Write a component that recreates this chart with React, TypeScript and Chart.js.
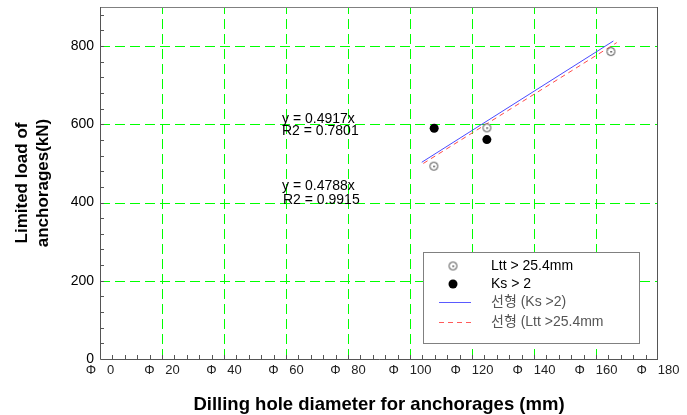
import React, { useEffect, useRef } from 'react';
import { Chart, registerables } from 'chart.js';
Chart.register(...registerables);

// ---- data ----
const xTickValues = [0, 20, 40, 60, 80, 100, 120, 140, 160, 180];
const yTickValues = [0, 200, 400, 600, 800];
const lttX = [107.7, 124.8, 164.8];
const lttY = [493, 591, 786];
const ksX = [107.8, 124.8];
const ksY = [590, 561];
const fitKsX = [103.8, 165.6];
const fitKsY = [503, 813];
const fitLttX = [104.3, 166.7];
const fitLttY = [500, 809];
const eqLines1 = ['y = 0.4917x', 'R2 = 0.7801'];
const eqLines2 = ['y = 0.4788x', 'R2 = 0.9915'];
const legendLabels = ['Ltt > 25.4mm', 'Ks > 2', '선형 (Ks >2)', '선형 (Ltt >25.4mm'];
const xTitle = 'Dilling hole diameter for anchorages (mm)';
const yTitle = ['Limited load of', 'anchorages(kN)'];

const FONT = '"Liberation Sans", Arial, "Noto Sans CJK KR", sans-serif';

function makeOpenDot(): HTMLCanvasElement {
  const c = document.createElement('canvas');
  c.width = 11; c.height = 11;
  const g = c.getContext('2d')!;
  g.fillStyle = '#fff';
  g.strokeStyle = '#444';
  g.lineWidth = 1;
  g.beginPath(); g.arc(5.5, 5.5, 4, 0, Math.PI * 2); g.fill(); g.stroke();
  g.fillStyle = '#111';
  g.fillRect(5, 5, 1.4, 1.4);
  return c;
}

let openDot: HTMLCanvasElement;

const overlayPlugin = {
  id: 'overlay',
  beforeDatasetsDraw(chart: any) {
    const { ctx, chartArea: a, scales } = chart;
    const xs = scales.x, ys = scales.y;
    ctx.save();
    // dashed green grid
    ctx.strokeStyle = '#00ff00';
    ctx.lineWidth = 1;
    ctx.setLineDash([10, 5]);
    for (const v of xTickValues) {
      if (v === 0 || v === 180) continue;
      const px = Math.round(xs.getPixelForValue(v)) + 0.5;
      ctx.beginPath();
      ctx.moveTo(px, a.bottom); ctx.lineTo(px, a.top);
      ctx.stroke();
    }
    for (const v of yTickValues) {
      if (v === 0) continue;
      const py = Math.round(ys.getPixelForValue(v)) + 0.5;
      ctx.beginPath();
      ctx.moveTo(a.left, py); ctx.lineTo(a.right, py);
      ctx.stroke();
    }
    ctx.setLineDash([]);
    // minor ticks
    ctx.strokeStyle = '#555';
    ctx.beginPath();
    for (let v = 4; v < 180; v += 4) {
      const px = Math.round(xs.getPixelForValue(v)) + 0.5;
      ctx.moveTo(px, a.bottom); ctx.lineTo(px, a.bottom - 4);
    }
    for (let v = 40; v < 900; v += 40) {
      const py = Math.round(ys.getPixelForValue(v)) + 0.5;
      ctx.moveTo(a.left, py); ctx.lineTo(a.left + 4, py);
    }
    ctx.stroke();
    // box
    ctx.strokeStyle = '#808080';
    ctx.beginPath();
    ctx.moveTo(a.left, a.top + 0.5); ctx.lineTo(a.right, a.top + 0.5);
    ctx.stroke();
    ctx.strokeStyle = '#555';
    ctx.beginPath();
    ctx.moveTo(a.left + 0.5, a.top); ctx.lineTo(a.left + 0.5, a.bottom + 0.5);
    ctx.lineTo(a.right, a.bottom + 0.5);
    ctx.moveTo(a.right - 0.5, a.top); ctx.lineTo(a.right - 0.5, a.bottom);
    ctx.stroke();
    ctx.restore();
  },
  afterDatasetsDraw(chart: any) {
    const { ctx, chartArea: a, height } = chart;
    ctx.save();
    // equation labels
    ctx.fillStyle = '#000';
    ctx.font = `14px ${FONT}`;
    ctx.textAlign = 'left';
    ctx.textBaseline = 'alphabetic';
    const ex = a.left + 182;
    ctx.fillText(eqLines1[0], ex, a.top + 116);
    ctx.fillText(eqLines1[1], ex, a.top + 128);
    ctx.fillText(eqLines2[0], ex, a.top + 183);
    ctx.fillText(eqLines2[1], ex + 1, a.top + 197);

    // legend
    const lx = a.left + 323, ly = a.top + 245, lw = 216, lh = 91;
    ctx.fillStyle = '#fff';
    ctx.fillRect(lx, ly, lw, lh);
    ctx.strokeStyle = '#808080';
    ctx.lineWidth = 1;
    ctx.strokeRect(lx + 0.5, ly + 0.5, lw, lh);
    const symX = lx + 30, textX = lx + 68;
    const rows = [ly + 14, ly + 32, ly + 50, ly + 70];
    ctx.font = `14px ${FONT}`;
    ctx.textBaseline = 'middle';
    ctx.drawImage(openDot, symX - 5.5, rows[0] - 5.5);
    ctx.fillStyle = '#000';
    ctx.beginPath(); ctx.arc(symX, rows[1], 4.5, 0, Math.PI * 2); ctx.fill();
    ctx.strokeStyle = '#5a5aff';
    ctx.beginPath(); ctx.moveTo(symX - 14, rows[2] + 0.5); ctx.lineTo(symX + 18, rows[2] + 0.5); ctx.stroke();
    ctx.strokeStyle = '#ff5a5a';
    ctx.setLineDash([5, 4]);
    ctx.beginPath(); ctx.moveTo(symX - 14, rows[3] + 0.5); ctx.lineTo(symX + 18, rows[3] + 0.5); ctx.stroke();
    ctx.setLineDash([]);
    ctx.fillStyle = '#000';
    ctx.fillText(legendLabels[0], textX, rows[0]);
    ctx.fillText(legendLabels[1], textX, rows[1]);
    ctx.fillStyle = '#555';
    ctx.fillText(legendLabels[2], textX, rows[2]);
    ctx.fillText(legendLabels[3], textX, rows[3]);

    // axis titles
    ctx.fillStyle = '#000';
    ctx.font = `bold 18.5px ${FONT}`;
    ctx.textAlign = 'center';
    ctx.textBaseline = 'alphabetic';
    ctx.fillText(xTitle, (a.left + a.right) / 2, height - 5);
    ctx.save();
    ctx.translate(22, (a.top + a.bottom) / 2);
    ctx.rotate(-Math.PI / 2);
    ctx.font = `bold 17px ${FONT}`;
    ctx.textBaseline = 'middle';
    ctx.fillText(yTitle[0], 0, 0);
    ctx.fillText(yTitle[1], 0, 21);
    ctx.restore();
    ctx.restore();
  },
};

export default function App() {
  const ref = useRef<HTMLCanvasElement>(null);
  useEffect(() => {
    openDot = makeOpenDot();
    const chart = new Chart(ref.current!, {
      type: 'scatter',
      data: {
        datasets: [
          {
            label: legendLabels[2],
            data: fitKsX.map((x, i) => ({ x, y: fitKsY[i] })),
            showLine: true,
            borderColor: '#4a4aff',
            borderWidth: 1,
            pointRadius: 0,
            order: 2,
          } as any,
          {
            label: legendLabels[3],
            data: fitLttX.map((x, i) => ({ x, y: fitLttY[i] })),
            showLine: true,
            borderColor: '#ff4a4a',
            borderWidth: 1,
            borderDash: [5, 4],
            pointRadius: 0,
            order: 1,
          } as any,
          {
            label: legendLabels[0],
            data: lttX.map((x, i) => ({ x, y: lttY[i] })),
            pointStyle: openDot,
            pointRadius: 5,
            order: 0,
          } as any,
          {
            label: legendLabels[1],
            data: ksX.map((x, i) => ({ x, y: ksY[i] })),
            pointStyle: 'circle',
            pointRadius: 4.5,
            backgroundColor: '#000',
            borderColor: '#000',
            borderWidth: 0,
            order: 0,
          } as any,
        ],
      },
      options: {
        animation: false,
        responsive: false,
        layout: { padding: { left: 0, right: 29, top: 7, bottom: 0 } },
        plugins: { legend: { display: false }, tooltip: { enabled: false } },
        scales: {
          x: {
            type: 'linear',
            min: 0,
            max: 180,
            afterBuildTicks: (s: any) => { s.ticks = xTickValues.map((v) => ({ value: v })); },
            afterFit: (s: any) => { s.height = 56; s.paddingLeft = 0; s.paddingRight = 0; },
            grid: { display: false, drawTicks: false },
            border: { display: false },
            ticks: {
              padding: 4,
              color: '#222',
              font: { family: FONT, size: 13 },
              callback: (v: any) => `Φ   ${v}`,
              maxRotation: 0,
            },
          },
          y: {
            type: 'linear',
            min: 0,
            max: 900,
            afterBuildTicks: (s: any) => { s.ticks = yTickValues.map((v) => ({ value: v })); },
            afterFit: (s: any) => { s.width = 100; s.paddingTop = 0; s.paddingBottom = 0; },
            grid: { display: false, drawTicks: false },
            border: { display: false },
            ticks: {
              padding: 6,
              color: '#000',
              font: { family: FONT, size: 14 },
            },
          },
        },
      },
      plugins: [overlayPlugin],
    } as any);
    return () => chart.destroy();
  }, []);
  return (
    <div style={{ position: 'absolute', left: 0, top: 0, width: 687, height: 415, background: '#fff' }}>
      <canvas ref={ref} width={687} height={415} />
    </div>
  );
}
